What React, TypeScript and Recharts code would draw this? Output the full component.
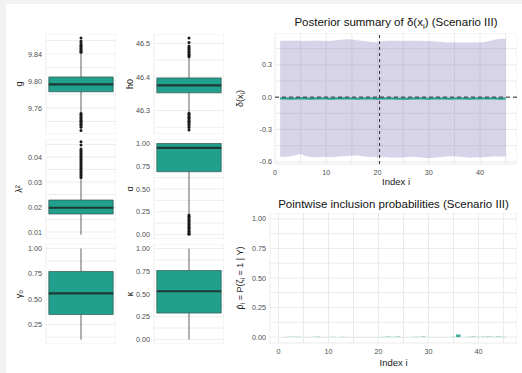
import {
  Area,
  Bar,
  CartesianGrid,
  ComposedChart,
  Line,
  ReferenceArea,
  ReferenceLine,
  Scatter,
  XAxis,
  YAxis,
} from 'recharts'

const FONT = '"Liberation Sans", Arial, Helvetica, sans-serif'
const TEAL = '#21a08d'
const GRID = '#e6e6e6'
const TICK = { fontSize: 7.2, fill: '#4d4d4d', fontFamily: FONT }

// ---- boxplots (g, h0, lambda^2, alpha, gamma0, kappa) ----
const boxNames = ['g', 'h0', 'λ²', 'α', 'γ₀', 'κ']
const boxLow = [9.753, 46.294, 0.0089, 0.23, 0.1, 0.0]
const boxQ1 = [9.784, 46.353, 0.0172, 0.69, 0.348, 0.29]
const boxMed = [9.795, 46.375, 0.0197, 0.953, 0.557, 0.53]
const boxQ3 = [9.806, 46.397, 0.0228, 1.0, 0.773, 0.758]
const boxHigh = [9.841, 46.458, 0.0316, 1.0, 1.0, 1.0]

const gOutliers = [
  9.8425, 9.844, 9.846, 9.8475, 9.849, 9.851, 9.853, 9.8555, 9.859, 9.8635,
  9.752, 9.75, 9.748, 9.746, 9.744, 9.742, 9.74, 9.738, 9.736, 9.734, 9.7315, 9.7267,
]
const h0Outliers = [
  46.46, 46.464, 46.468, 46.472, 46.476, 46.48, 46.484, 46.488, 46.492, 46.503, 46.516,
  46.292, 46.288, 46.284, 46.28, 46.276, 46.272, 46.268, 46.264, 46.26, 46.255, 46.249, 46.242,
]
const lambdaOutliers = [
  0.0318, 0.0324, 0.033, 0.0336, 0.0342, 0.0348, 0.0354, 0.036, 0.0366, 0.0372, 0.0378,
  0.0384, 0.039, 0.0396, 0.0402, 0.0408, 0.0414, 0.042, 0.0426, 0.0432, 0.0448, 0.0461,
]
const alphaOutliers = [
  0.215, 0.2, 0.185, 0.17, 0.155, 0.14, 0.125, 0.11, 0.095, 0.08, 0.065, 0.05, 0.035, 0.02, 0.008, 0.001,
]
const boxOutliers = [gOutliers, h0Outliers, lambdaOutliers, alphaOutliers, [], []]

const boxTicks = [
  [9.74, 9.76, 9.78, 9.8, 9.82, 9.84, 9.86],
  [46.25, 46.3, 46.35, 46.4, 46.45, 46.5],
  [0.01, 0.015, 0.02, 0.025, 0.03, 0.035, 0.04, 0.045],
  [0, 0.125, 0.25, 0.375, 0.5, 0.625, 0.75, 0.875, 1],
  [0.125, 0.25, 0.375, 0.5, 0.625, 0.75, 0.875, 1],
  [0, 0.125, 0.25, 0.375, 0.5, 0.625, 0.75, 0.875, 1],
]
const boxMajor = [
  [9.76, 9.8, 9.84],
  [46.3, 46.4, 46.5],
  [0.01, 0.02, 0.03, 0.04],
  [0, 0.25, 0.5, 0.75, 1],
  [0.25, 0.5, 0.75, 1],
  [0, 0.25, 0.5, 0.75, 1],
]
const boxDigits = [2, 1, 2, 2, 2, 2]
const boxDomains: [number, number][] = [
  [9.7215, 9.8696],
  [46.23, 46.528],
  [0.0072, 0.0472],
  [-0.05, 1.05],
  [0.057, 1.044],
  [-0.05, 1.05],
]
const boxXTicks = [0, 0.1, 0.2, 0.3, 0.4, 0.5, 0.6, 0.7, 0.8, 0.9, 1]

// ---- posterior summary of delta(x_i) ----
const indexI = [
  1, 2, 3, 4, 5, 6, 7, 8, 9, 10, 11, 12, 13, 14, 15, 16, 17, 18, 19, 20, 21, 22, 23,
  24, 25, 26, 27, 28, 29, 30, 31, 32, 33, 34, 35, 36, 37, 38, 39, 40, 41, 42, 43, 44, 45,
]
const postHigh = [
  0.523, 0.522, 0.524, 0.525, 0.522, 0.521, 0.523, 0.525, 0.523, 0.52, 0.522, 0.527, 0.532,
  0.536, 0.534, 0.528, 0.522, 0.517, 0.512, 0.507, 0.518, 0.523, 0.524, 0.522, 0.521, 0.523,
  0.524, 0.522, 0.52, 0.521, 0.518, 0.515, 0.51, 0.508, 0.509, 0.507, 0.508, 0.506, 0.509,
  0.507, 0.515, 0.524, 0.534, 0.541, 0.545,
]
const postLow = [
  -0.552, -0.553, -0.548, -0.538, -0.528, -0.545, -0.555, -0.558, -0.556, -0.554, -0.557,
  -0.553, -0.549, -0.545, -0.543, -0.542, -0.547, -0.552, -0.556, -0.557, -0.553, -0.558,
  -0.561, -0.559, -0.56, -0.556, -0.553, -0.557, -0.562, -0.566, -0.561, -0.557, -0.552,
  -0.549, -0.548, -0.553, -0.558, -0.561, -0.557, -0.559, -0.556, -0.553, -0.549, -0.552,
  -0.55,
]
const postMean = [
  -0.013, -0.012, -0.014, -0.013, -0.011, -0.012, -0.014, -0.013, -0.012, -0.013, -0.014,
  -0.012, -0.011, -0.012, -0.013, -0.014, -0.013, -0.012, -0.013, -0.014, -0.013, -0.012,
  -0.013, -0.014, -0.015, -0.014, -0.013, -0.012, -0.013, -0.014, -0.013, -0.012, -0.013,
  -0.014, -0.013, -0.012, -0.013, -0.014, -0.013, -0.012, -0.013, -0.012, -0.013, -0.014,
  -0.013,
]
const changePoint = 20.4

// ---- pointwise inclusion probabilities ----
const pHat = [
  0.001, 0.002, 0.002, 0.002, 0.001, 0.001, 0.002, 0.003, 0.001, 0.001, 0.002, 0.001, 0.002,
  0.001, 0.001, 0.001, 0.001, 0.001, 0.001, 0.001, 0.002, 0.004, 0.002, 0.004, 0.001, 0.001,
  0.002, 0.002, 0.004, 0.001, 0.001, 0.001, 0.001, 0.001, 0.002, 0.022, 0.001, 0.002, 0.004,
  0.002, 0.003, 0.004, 0.002, 0.004, 0.002,
]

const indexTicks = [0, 5, 10, 15, 20, 25, 30, 35, 40, 45]
const deltaTicks = [-0.6, -0.45, -0.3, -0.15, 0, 0.15, 0.3, 0.45]
const deltaMajor = [-0.6, -0.3, 0, 0.3]
const probTicks = [0, 0.125, 0.25, 0.375, 0.5, 0.625, 0.75, 0.875, 1]
const probMajor = [0, 0.25, 0.5, 0.75, 1]

const isIn = (list: number[], v: number) => list.some((m) => Math.abs(m - v) < 1e-9)

const yTitle =
  (content: React.ReactNode, dx: number, size = 9) =>
  (props: any) => {
    const vb = props.viewBox
    const x = vb.x + dx
    const y = vb.y + vb.height / 2
    return (
      <text
        x={x}
        y={y}
        transform={`rotate(-90 ${x} ${y})`}
        textAnchor="middle"
        dominantBaseline="central"
        fontSize={size}
        fill="#1a1a1a"
        fontFamily={FONT}
      >
        {content}
      </text>
    )
  }

const xTitle = (text: string, dy: number) => (props: any) => {
  const vb = props.viewBox
  return (
    <text
      x={vb.x + vb.width / 2}
      y={vb.y + dy}
      textAnchor="middle"
      fontSize={9.5}
      fill="#1a1a1a"
      fontFamily={FONT}
    >
      {text}
    </text>
  )
}

const dot = (p: any) => <circle cx={p.cx} cy={p.cy} r={1.5} fill="#1a1a1a" />

function BoxPanel({ k, left, top, axisW, labelDx }: { k: number; left: number; top: number; axisW: number; labelDx: number }) {
  const pts = boxOutliers[k].map((y) => ({ x: 0.5, y }))
  const x1 = 0.04
  const x2 = 0.96
  return (
    <div style={{ position: 'absolute', left, top }}>
      <ComposedChart width={axisW + 70} height={100} margin={{ top: 0, right: 0, bottom: 0, left: 0 }}>
        <CartesianGrid stroke={GRID} strokeWidth={0.7} />
        <XAxis
          type="number"
          dataKey="x"
          domain={[0, 1]}
          ticks={boxXTicks}
          interval={0}
          tick={false}
          axisLine={false}
          tickLine={false}
          height={0}
          allowDataOverflow
        />
        <YAxis
          type="number"
          dataKey="y"
          domain={boxDomains[k]}
          ticks={boxTicks[k]}
          interval={0}
          allowDataOverflow
          width={axisW}
          axisLine={false}
          tickLine={false}
          tickSize={0}
          tickMargin={4}
          tick={TICK}
          tickFormatter={(v: number) => (isIn(boxMajor[k], v) ? v.toFixed(boxDigits[k]) : '')}
          label={yTitle(boxNames[k], labelDx)}
        />
        <ReferenceLine
          segment={[
            { x: 0.5, y: boxLow[k] },
            { x: 0.5, y: boxQ1[k] },
          ]}
          stroke="#3a3a3a"
          strokeWidth={0.8}
        />
        <ReferenceLine
          segment={[
            { x: 0.5, y: boxQ3[k] },
            { x: 0.5, y: boxHigh[k] },
          ]}
          stroke="#3a3a3a"
          strokeWidth={0.8}
        />
        <ReferenceArea
          x1={x1}
          x2={x2}
          y1={boxQ1[k]}
          y2={boxQ3[k]}
          fill={TEAL}
          fillOpacity={1}
          stroke="#345450"
          strokeWidth={0.7}
          ifOverflow="extendDomain"
        />
        <ReferenceLine
          segment={[
            { x: x1, y: boxMed[k] },
            { x: x2, y: boxMed[k] },
          ]}
          stroke="#1d3835"
          strokeWidth={2.2}
        />
        <Scatter data={pts} shape={dot} isAnimationActive={false} />
      </ComposedChart>
    </div>
  )
}

const postData = indexI.map((i, n) => ({ i, band: [postLow[n], postHigh[n]], mean: postMean[n] }))
const probData = indexI.map((i, n) => ({ i, p: pHat[n] }))

const deltaLabel = (
  <>
    δ(x
    <tspan fontSize={7} dy={2}>
      i
    </tspan>
    <tspan dy={-2}>)</tspan>
  </>
)
const pLabel = (
  <>
    p̂
    <tspan fontSize={7} dy={2}>
      i
    </tspan>
    <tspan dy={-2}> = P(ζ</tspan>
    <tspan fontSize={7} dy={2}>
      i
    </tspan>
    <tspan dy={-2}> = 1 | Y)</tspan>
  </>
)

const titleStyle = (left: number, top: number, width: number): React.CSSProperties => ({
  position: 'absolute',
  left,
  top,
  width,
  textAlign: 'center',
  fontSize: 11.5,
  lineHeight: '13px',
  color: '#111',
  fontFamily: FONT,
  whiteSpace: 'nowrap',
})
const subStyle: React.CSSProperties = { fontSize: 8, position: 'relative', top: 3, verticalAlign: 'baseline' }

export default function App() {
  return (
    <div style={{ position: 'absolute', left: 0, top: 0, width: 522, height: 373, background: '#f2f2f2', fontFamily: FONT }}>
      <div style={{ position: 'absolute', left: 6, top: 4, right: 0, bottom: 0, background: '#ffffff' }} />

      <BoxPanel k={0} left={6} top={34} axisW={40} labelDx={13} />
      <BoxPanel k={1} left={120} top={34} axisW={34} labelDx={9.5} />
      <BoxPanel k={2} left={6} top={139} axisW={40} labelDx={13} />
      <BoxPanel k={3} left={120} top={139} axisW={34} labelDx={9.5} />
      <BoxPanel k={4} left={6} top={243.5} axisW={40} labelDx={13} />
      <BoxPanel k={5} left={120} top={243.5} axisW={34} labelDx={9.5} />

      <div style={titleStyle(275, 15.5, 242)}>
        Posterior summary of δ(x<span style={subStyle}>i</span>) (Scenario III)
      </div>
      <div style={{ position: 'absolute', left: 230, top: 33 }}>
        <ComposedChart width={287} height={157} data={postData} margin={{ top: 0, right: 0, bottom: 0, left: 0 }}>
          <CartesianGrid stroke={GRID} strokeWidth={0.8} />
          <XAxis
            type="number"
            dataKey="i"
            domain={[0, 47.2]}
            ticks={indexTicks}
            interval={0}
            allowDataOverflow
            height={26}
            axisLine={false}
            tickLine={false}
            tickSize={0}
            tickMargin={5.5}
            tick={TICK}
            tickFormatter={(v: number) => (v % 10 === 0 ? String(v) : '')}
            label={xTitle('Index i', 21)}
          />
          <YAxis
            type="number"
            domain={[-0.62, 0.595]}
            ticks={deltaTicks}
            interval={0}
            allowDataOverflow
            width={45}
            axisLine={false}
            tickLine={false}
            tickSize={0}
            tickMargin={3}
            tick={TICK}
            tickFormatter={(v: number) => (isIn(deltaMajor, v) ? v.toFixed(1) : '')}
            label={yTitle(deltaLabel, 10)}
          />
          <Area dataKey="band" type="linear" fill="#7b6fb5" fillOpacity={0.3} stroke="none" isAnimationActive={false} />
          <Line dataKey="mean" type="linear" stroke={TEAL} strokeWidth={2} dot={false} isAnimationActive={false} />
          <ReferenceLine y={0} stroke="#2b2b2b" strokeWidth={1} strokeDasharray="4 3" />
          <ReferenceLine x={changePoint} stroke="#2b2b2b" strokeWidth={1} strokeDasharray="3 3" />
        </ComposedChart>
      </div>

      <div style={titleStyle(270, 197.5, 247)}>Pointwise inclusion probabilities (Scenario III)</div>
      <div style={{ position: 'absolute', left: 230, top: 213 }}>
        <ComposedChart width={287} height={156} data={probData} margin={{ top: 0, right: 0, bottom: 0, left: 0 }}>
          <CartesianGrid stroke={GRID} strokeWidth={0.8} />
          <XAxis
            type="number"
            dataKey="i"
            domain={[-1.695, 47.695]}
            ticks={indexTicks}
            interval={0}
            allowDataOverflow
            height={26}
            axisLine={false}
            tickLine={false}
            tickSize={0}
            tickMargin={5.5}
            tick={TICK}
            tickFormatter={(v: number) => (v % 10 === 0 ? String(v) : '')}
            label={xTitle('Index i', 23)}
          />
          <YAxis
            type="number"
            domain={[-0.05, 1.05]}
            ticks={probTicks}
            interval={0}
            allowDataOverflow
            width={40}
            axisLine={false}
            tickLine={false}
            tickSize={0}
            tickMargin={4}
            tick={TICK}
            tickFormatter={(v: number) => (isIn(probMajor, v) ? v.toFixed(2) : '')}
            label={yTitle(pLabel, 10)}
          />
          <Bar dataKey="p" fill={TEAL} fillOpacity={0.85} barSize={4.5} isAnimationActive={false} />
        </ComposedChart>
      </div>
    </div>
  )
}
